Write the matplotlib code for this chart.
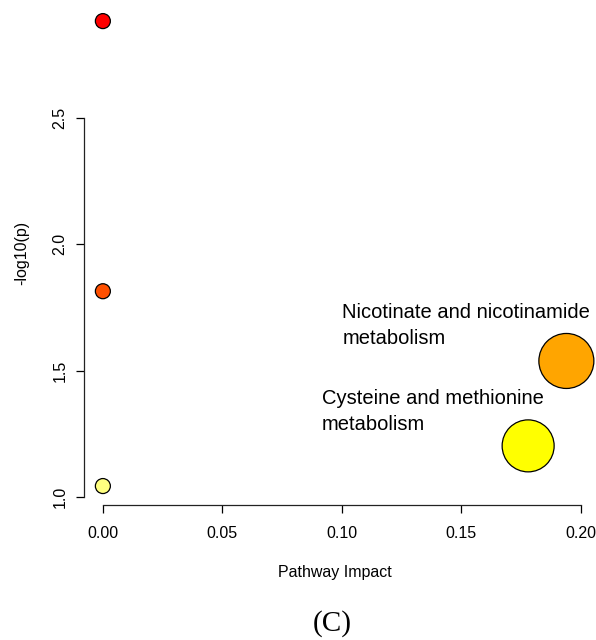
import numpy as np
import matplotlib
matplotlib.use("Agg")
import matplotlib.pyplot as plt

# pathway impact vs -log10(p)
impact = [0.0, 0.0, 0.0, 0.194, 0.178]
logp = [2.883, 1.814, 1.043, 1.538, 1.202]
colors = ["#ff0000", "#ff5000", "#ffff80", "#ffa500", "#ffff00"]
diam_px = [15, 15, 15, 55, 52]
labels = ["", "", "", "Nicotinate and nicotinamide\nmetabolism",
          "Cysteine and methionine\nmetabolism"]
label_off = [None, None, None, (-224, 58), (-206, 57)]

xticks = [0.00, 0.05, 0.10, 0.15, 0.20]
yticks = [1.0, 1.5, 2.0, 2.5]

plt.rcParams["font.family"] = ["Liberation Sans", "DejaVu Sans"]

fig = plt.figure(figsize=(5.96, 6.40), dpi=100)
W, H = 596, 640
left, right, bottom, top = 84, 585, 505, 2.4
ax = fig.add_axes([left / W, 1 - bottom / H, (right - left) / W, (bottom - top) / H])

# marker area in points^2 from pixel diameter
sizes = [(d * 72 / 100) ** 2 for d in diam_px]
ax.scatter(impact, logp, s=sizes, c=colors, edgecolors="black", linewidths=0.9,
           zorder=3, clip_on=False)

for xi, yi, lab, off in zip(impact, logp, labels, label_off):
    if lab:
        ax.annotate(lab, (xi, yi), xytext=off, textcoords="offset pixels",
                    ha="left", va="top", fontsize=14.5, linespacing=1.45)

ax.set_xlim(-0.0079, 0.2018)
ax.set_ylim(0.968, 2.957)
ax.set_xticks(xticks)
ax.set_xticklabels([f"{t:.2f}" for t in xticks])
ax.set_yticks(yticks)
ax.set_yticklabels([f"{t:.1f}" for t in yticks], rotation=90, va="center")

for s in ["top", "right"]:
    ax.spines[s].set_visible(False)
ax.spines["left"].set_bounds(yticks[0], yticks[-1])
ax.spines["bottom"].set_bounds(xticks[0], xticks[-1])
for s in ["left", "bottom"]:
    ax.spines[s].set_linewidth(0.9)
    ax.spines[s].set_color("#222222")

ax.tick_params(axis="x", length=6, width=0.9, pad=9, labelsize=11.5)
ax.tick_params(axis="y", length=6, width=0.9, pad=6, labelsize=11.5)

fig.text(335 / W, 1 - 572 / H, "Pathway Impact", ha="center", va="center", fontsize=11.5)
fig.text(22 / W, 1 - 253 / H, "-log10(p)", ha="center", va="center", rotation=90,
         fontsize=11.5)
fig.text(332 / W, 1 - 624 / H, "(C)", ha="center", va="center", fontsize=21,
         family=["Liberation Serif", "DejaVu Serif"])

fig.savefig("out.png", dpi=100)
